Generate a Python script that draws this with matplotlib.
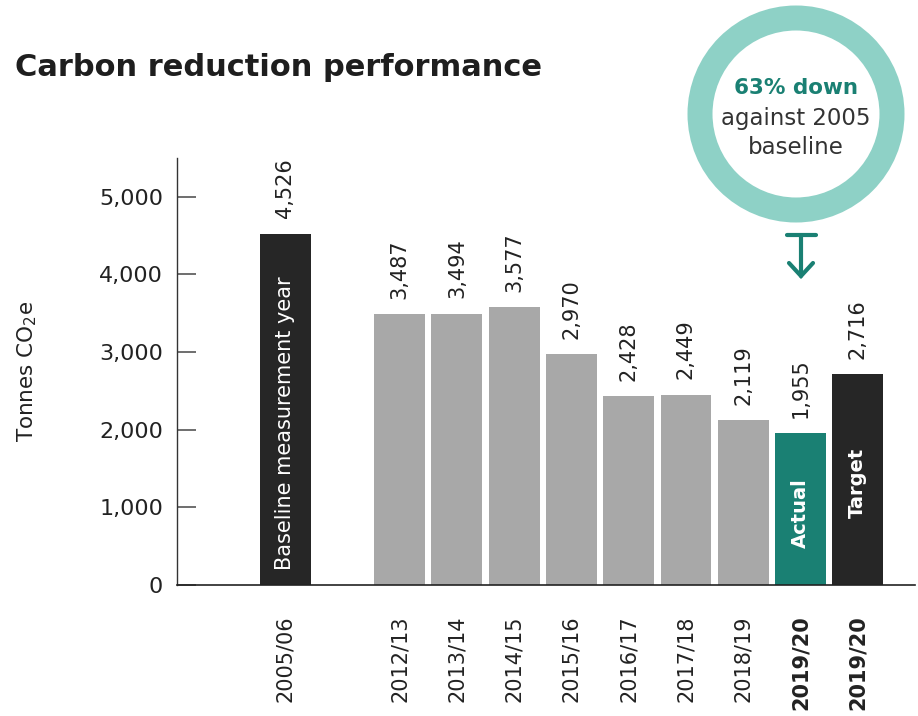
import matplotlib
matplotlib.use('Agg')
import matplotlib.pyplot as plt
from matplotlib.patches import Circle

plt.rcParams['font.family'] = ['DejaVu Sans']

# data
years = ['2005/06', '2012/13', '2013/14', '2014/15', '2015/16', '2016/17',
         '2017/18', '2018/19', '2019/20', '2019/20']
values = [4526, 3487, 3494, 3577, 2970, 2428, 2449, 2119, 1955, 2716]
slots = [0, 2, 3, 4, 5, 6, 7, 8, 9, 10]
bar_colors = ['#262626'] + ['#a8a8a8'] * 7 + ['#1a8073', '#262626']
inner_labels = {0: 'Baseline measurement year', 8: 'Actual', 9: 'Target'}
inner_base = {0: 190, 8: 480, 9: 860}

W, H = 918, 716
fig = plt.figure(figsize=(W / 100, H / 100), dpi=100)
ax = fig.add_axes([177 / W, 1 - 585 / H, (915 - 177) / W, (585 - 158) / H])

ax.bar(slots, values, width=0.89, color=bar_colors)
ax.set_xlim(-1.89, 11.0)
ax.set_ylim(0, 5500)

# value labels above bars
for s, v in zip(slots, values):
    ax.text(s, v + 200, f'{v:,}', rotation=90, ha='center', va='bottom',
            fontsize=15, color='#222222')

# labels inside bars
for i, txt in inner_labels.items():
    bold = i != 0
    ax.text(slots[i], inner_base[i], txt, rotation=90, ha='center',
            va='bottom', color='white', fontsize=14 if bold else 15,
            fontweight='bold' if bold else 'normal')

ax.set_xticks(slots)
ax.set_xticklabels(years, rotation=90, fontsize=15, color='#222222', va='top')
for lbl in ax.get_xticklabels()[-2:]:
    lbl.set_fontweight('bold')
ax.tick_params(axis='x', length=0, pad=22)

ax.set_yticks(range(0, 5001, 1000))
ax.set_yticklabels([f'{t:,}' for t in range(0, 5001, 1000)], fontsize=16,
                   color='#222222')
ax.tick_params(axis='y', direction='in', length=14, width=1.2, color='#555555', pad=10)
ax.set_ylabel('Tonnes CO$_\\mathregular{2}$e', fontsize=15.5, color='#222222', va='center')
ax.yaxis.set_label_coords(-0.203, 0.5)

for side in ['top', 'right']:
    ax.spines[side].set_visible(False)
ax.spines['left'].set_color('#333333')
ax.spines['bottom'].set_color('#222222')
ax.spines['left'].set_linewidth(1)
ax.spines['bottom'].set_linewidth(1.2)

fig.text(15 / W, 1 - 68 / H, 'Carbon reduction performance', fontsize=22,
         fontweight='bold', color='#1e1e1e', va='center', ha='left')

# callout circle + arrow in pixel coordinates
ov = fig.add_axes([0, 0, 1, 1], facecolor='none')
ov.set_xlim(0, W)
ov.set_ylim(H, 0)
ov.axis('off')
ov.add_patch(Circle((796, 114), 96, fill=False, lw=25 * 0.72, ec='#8ed1c6'))
ov.text(796, 88, '63% down', ha='center', va='center', fontsize=15.5,
        fontweight='bold', color='#1a8073')
ov.text(796, 119, 'against 2005', ha='center', va='center', fontsize=16.5,
        color='#333333')
ov.text(796, 148, 'baseline', ha='center', va='center', fontsize=16.5,
        color='#333333')
ov.plot([787, 816], [235, 235], color='#1a8073', lw=3, solid_capstyle='round')
ov.plot([801, 801], [235, 276], color='#1a8073', lw=3, solid_capstyle='round')
ov.plot([789, 801, 813], [263, 276, 263], color='#1a8073', lw=3,
        solid_capstyle='round', solid_joinstyle='miter')

fig.savefig('out.png', dpi=100, facecolor='white')
